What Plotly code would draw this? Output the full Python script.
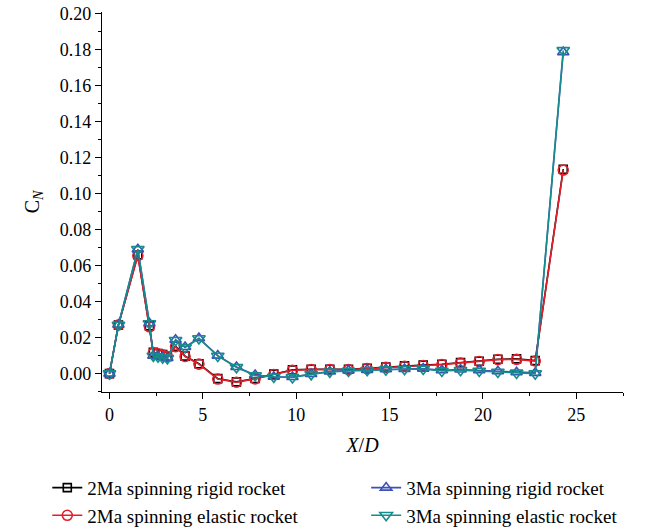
import plotly.graph_objects as go

# Axial stations along the rocket body (X/D)
x_pos = [0.0, 0.48, 1.52, 2.14, 2.35, 2.6, 2.85, 3.1, 3.54, 4.05, 4.79, 5.8,
         6.8, 7.8, 8.8, 9.8, 10.8, 11.8, 12.8, 13.8, 14.8, 15.8, 16.8, 17.8,
         18.8, 19.8, 20.8, 21.8, 22.8, 24.3]

# Normal force coefficient distributions
cn_2ma_rigid = [0.000, 0.027, 0.0660, 0.0265, 0.0118, 0.0112, 0.0106, 0.0096, 0.0152, 0.0097,
                0.0055, -0.0028, -0.0046, -0.0027, -0.0003, 0.0021, 0.0024, 0.0024, 0.0024,
                0.0030, 0.0037, 0.0043, 0.0047, 0.0052, 0.0061, 0.0069, 0.0080, 0.0082, 0.0072,
                0.1135]
cn_2ma_elastic = [0.000, 0.027, 0.0655, 0.0260, 0.0115, 0.0110, 0.0104, 0.0094, 0.0150, 0.0095,
                  0.0053, -0.0030, -0.0048, -0.0029, -0.0005, 0.0019, 0.0022, 0.0022, 0.0022,
                  0.0028, 0.0035, 0.0041, 0.0045, 0.0050, 0.0059, 0.0067, 0.0078, 0.0079, 0.0070,
                  0.1130]
cn_3ma_rigid = [0.000, 0.0272, 0.0690, 0.0280, 0.0100, 0.0096, 0.0091, 0.0087, 0.0188, 0.0148,
                0.0197, 0.0100, 0.0037, -0.0008, -0.0017, -0.0019, -0.0002, 0.0012, 0.0017,
                0.0021, 0.0024, 0.0026, 0.0028, 0.0019, 0.0023, 0.0019, 0.0013, 0.0008, 0.0004,
                0.1785]
cn_3ma_elastic = [0.000, 0.0270, 0.0690, 0.0278, 0.0098, 0.0094, 0.0089, 0.0085, 0.0185, 0.0145,
                  0.0195, 0.0098, 0.0035, -0.0010, -0.0019, -0.0021, -0.0004, 0.0010, 0.0015,
                  0.0019, 0.0022, 0.0024, 0.0026, 0.0015, 0.0019, 0.0015, 0.0009, 0.0004, 0.0000,
                  0.1795]

series_names = ["2Ma spinning rigid rocket", "2Ma spinning elastic rocket",
                "3Ma spinning rigid rocket", "3Ma spinning elastic rocket"]

FONT = "Liberation Serif"

styles = [
    dict(y=cn_2ma_rigid, color="#000000", symbol="square-open", size=8, legend="legend", rank=1),
    dict(y=cn_2ma_elastic, color="#e61e2a", symbol="circle-open", size=10, legend="legend", rank=2),
    dict(y=cn_3ma_rigid, color="#3d4fb8", symbol="triangle-up-open", size=10, legend="legend2", rank=3),
    dict(y=cn_3ma_elastic, color="#168c8c", symbol="triangle-down-open", size=11, legend="legend2", rank=4),
]

fig = go.Figure()
for name, st in zip(series_names, styles):
    fig.add_trace(go.Scatter(
        x=x_pos, y=st["y"], name=name, mode="lines+markers",
        line=dict(color=st["color"], width=1.6),
        marker=dict(symbol=st["symbol"], size=st["size"], color=st["color"],
                    line=dict(color=st["color"], width=1.6)),
        legend=st["legend"], legendgroup=name, legendrank=st["rank"],
    ))

axis_common = dict(
    showline=True, linecolor="black", linewidth=1.2, mirror=False,
    showgrid=False, zeroline=False, ticks="outside", tickcolor="black",
    ticklen=6, tickwidth=1.2, automargin=False,
    tickfont=dict(family=FONT, size=18, color="black"),
)

fig.update_xaxes(
    range=[-0.4, 27.5], tick0=0, dtick=5,
    minor=dict(dtick=2.5, ticks="outside", ticklen=3, tickcolor="black", tickwidth=1.2),
    title=dict(text="<i>X</i>/<i>D</i>", font=dict(family=FONT, size=20, color="black"), standoff=14),
    **axis_common,
)
fig.update_yaxes(
    range=[-0.0102, 0.2008], tick0=0, dtick=0.02, tickformat=".2f",
    minor=dict(dtick=0.01, ticks="outside", ticklen=3, tickcolor="black", tickwidth=1.2),
    title=dict(text="C<sub><i>N</i></sub>", font=dict(family=FONT, size=20, color="black"), standoff=14),
    **axis_common,
)

legend_common = dict(
    orientation="v", xanchor="left", yanchor="top",
    font=dict(family=FONT, size=19, color="black"),
    bgcolor="rgba(0,0,0,0)", borderwidth=0, tracegroupgap=0, itemwidth=30,
)

fig.update_layout(
    width=660, height=531,
    margin=dict(l=102, r=37, t=12, b=139, autoexpand=False),
    paper_bgcolor="white", plot_bgcolor="white",
    showlegend=True,
    legend=dict(x=-0.105, y=-0.202, **legend_common),
    legend2=dict(x=0.507, y=-0.202, **legend_common),
)

fig.write_html("out.html")
